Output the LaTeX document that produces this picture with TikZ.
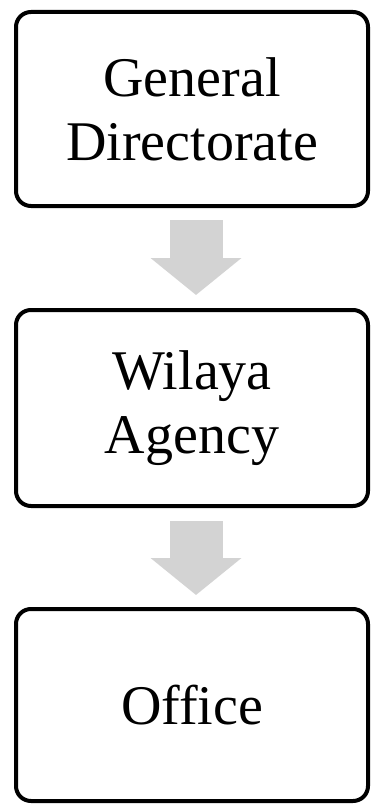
\documentclass[tikz,border=0pt]{standalone}
\usepackage{fontspec}
\setmainfont{Liberation Serif}
\usepackage{xcolor}
\usepackage{tikz}
\usetikzlibrary{arrows.meta, positioning}

\definecolor{arrowgray}{HTML}{D3D3D3}

\begin{document}
\begin{tikzpicture}[
    x=1pt, y=1pt,
    box/.style={draw=black, rounded corners=15pt, align=center, line width=4pt, minimum width=352pt, font=\fontsize{56}{64}\selectfont},
    levelbox/.style={box, minimum height=194pt},
    blockarrow/.style={-{Triangle[length=37pt, width=89pt]}, draw=arrowgray, line width=53pt}
]
    \useasboundingbox (0, 0) rectangle (370, -805);

    % Three administrative levels, top to bottom.
    \node[levelbox]                       (directorate) at (192, -109) {General\\Directorate};
    \node[levelbox, minimum height=196pt] (agency)      at (192, -408) {Wilaya\\Agency};
    \node[levelbox, minimum height=192pt] (office)      at (192, -705) {Office};

    \draw[blockarrow, shorten <=12pt, shorten >=13pt] ([xshift=4pt]directorate.south) -- ([xshift=4pt]agency.north);
    \draw[blockarrow, shorten <=13pt, shorten >=12pt] ([xshift=4pt]agency.south) -- ([xshift=4pt]office.north);

\end{tikzpicture}
\end{document}
